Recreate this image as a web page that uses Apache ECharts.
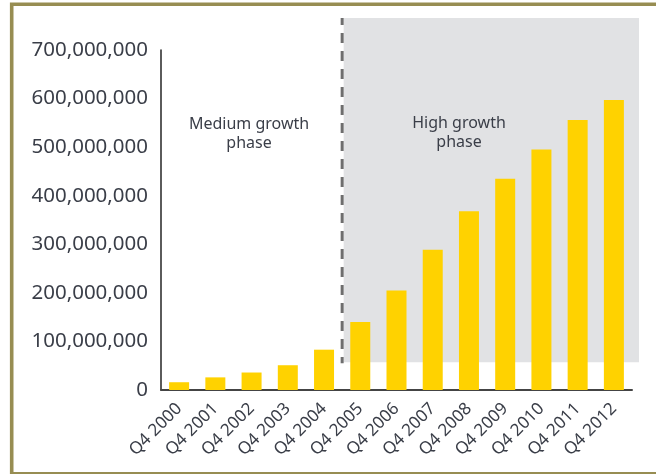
<!DOCTYPE html>
<html>
<head>
<meta charset="utf-8">
<script src="https://cdn.jsdelivr.net/npm/echarts@6/dist/echarts.min.js"></script>
<style>
  html, body { margin: 0; padding: 0; background: #ffffff; }
  #chart { width: 656px; height: 474px; }
</style>
</head>
<body>
<div id="chart"></div>
<script>
// Subscriber totals at the end of each year
const categories = ['Q4 2000', 'Q4 2001', 'Q4 2002', 'Q4 2003', 'Q4 2004', 'Q4 2005', 'Q4 2006',
                    'Q4 2007', 'Q4 2008', 'Q4 2009', 'Q4 2010', 'Q4 2011', 'Q4 2012'];
const subscribers = [16e6, 26e6, 36e6, 51e6, 83e6, 140e6, 205e6, 289e6, 368e6, 435e6, 495e6, 556e6, 597e6];
const yMin = 0;
const yMax = 700e6;
const yStep = 100e6;

// Growth phases: the high phase starts at this category; its shaded panel sits above this value
const phaseNames = ['Medium growth\nphase', 'High growth\nphase'];
const highPhaseStart = 'Q4 2005';
const highPanelFloor = 57e6;

const TEXT = '#3a3e48';
const FONT = '"Noto Sans", "Liberation Sans", sans-serif';

const chart = echarts.init(document.getElementById('chart'), null, { renderer: 'canvas' });

chart.setOption({
  animation: false,
  backgroundColor: '#ffffff',
  grid: { left: 161, top: 50, width: 471, height: 340, containLabel: false },
  xAxis: {
    type: 'category',
    data: categories,
    boundaryGap: true,
    axisLine: { lineStyle: { color: '#444444', width: 2 } },
    axisTick: { show: false },
    axisLabel: {
      interval: 0,
      rotate: 45,
      margin: 16,
      color: TEXT,
      fontFamily: FONT,
      fontSize: 17,
      padding: [0, 0, 0, 0]
    },
    splitLine: { show: false }
  },
  yAxis: {
    type: 'value',
    min: yMin,
    max: yMax,
    interval: yStep,
    axisLine: { show: true, lineStyle: { color: '#333333', width: 1.6 } },
    axisTick: { show: false },
    splitLine: { show: false },
    axisLabel: {
      margin: 13,
      color: TEXT,
      fontFamily: FONT,
      fontSize: 20.5,
      padding: [0, 0, 3, 0],
      formatter: v => v.toLocaleString('en-US')
    }
  },
  series: [{
    type: 'bar',
    data: subscribers,
    barWidth: 20,
    itemStyle: { color: '#ffd200' },
    z: 5
  }]
});

// Shaded high-growth panel and dashed divider, placed from the axis scales
const iStart = categories.indexOf(highPhaseStart);
const xPrev = chart.convertToPixel({ xAxisIndex: 0 }, categories[iStart - 1]);
const xNext = chart.convertToPixel({ xAxisIndex: 0 }, categories[iStart]);
const xSplit = (xPrev + xNext) / 2;
const yFloor = chart.convertToPixel({ yAxisIndex: 0 }, highPanelFloor);
const panelTop = 18;
const panelRight = 639;

chart.setOption({
  graphic: [
    {
      type: 'rect',
      z: 0,
      shape: { x: xSplit + 1.5, y: panelTop, width: panelRight - xSplit - 1.5, height: yFloor - panelTop },
      style: { fill: '#e1e2e4' }
    },
    {
      type: 'line',
      z: 1,
      shape: { x1: xSplit, y1: panelTop, x2: xSplit, y2: yFloor + 1 },
      style: { stroke: '#6e6e6e', lineWidth: 3, lineDash: [10, 8], lineDashOffset: 3 }
    },
    {
      type: 'text',
      z: 10,
      x: 249, y: 134,
      style: {
        text: phaseNames[0],
        fill: TEXT,
        font: '16px ' + FONT,
        align: 'center',
        verticalAlign: 'middle',
        lineHeight: 19
      }
    },
    {
      type: 'text',
      z: 10,
      x: 459, y: 133,
      style: {
        text: phaseNames[1],
        fill: TEXT,
        font: '16px ' + FONT,
        align: 'center',
        verticalAlign: 'middle',
        lineHeight: 19
      }
    },
    {
      // olive frame around the figure
      type: 'rect',
      z: 20,
      shape: { x: 11.7, y: 4.2, width: 700, height: 469.6 },
      style: { fill: null, stroke: '#978d52', lineWidth: 3.6 }
    }
  ]
});
</script>
</body>
</html>
